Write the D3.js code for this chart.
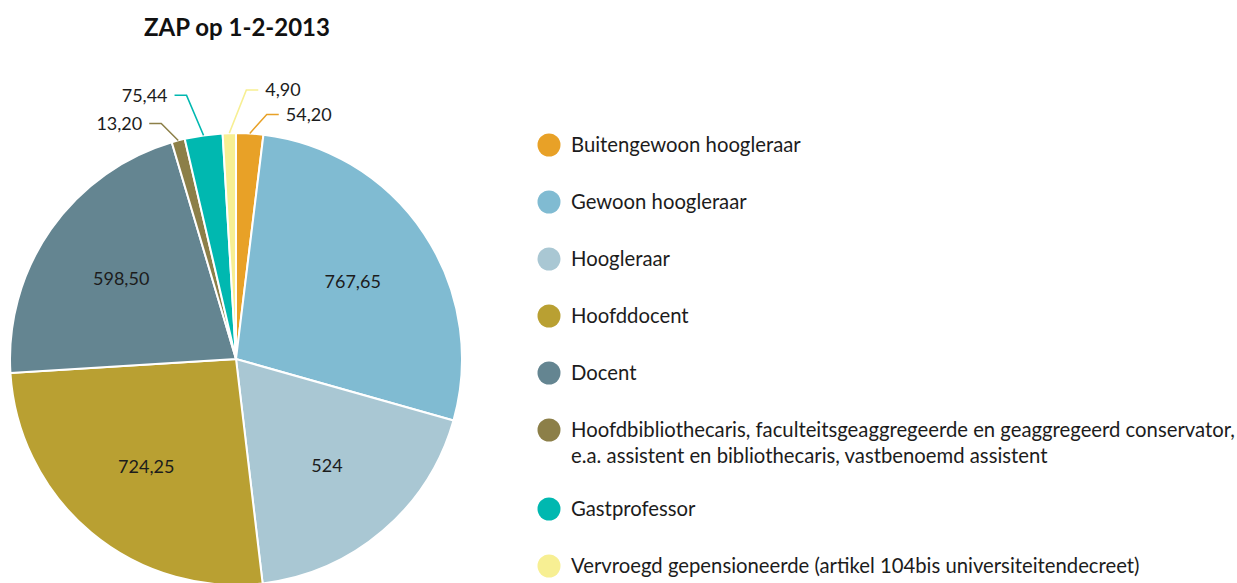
<!DOCTYPE html>
<html>
<head>
<meta charset="utf-8">
<script src="https://cdn.jsdelivr.net/npm/d3@7"></script>
<style>
  body { margin: 0; background: #fff; }
  svg { display: block; font-family: Lato, "Open Sans", sans-serif; }
</style>
</head>
<body>
<div class="chart"></div>
<script>
const title = 'ZAP op 1-2-2013'

const categories = [
    'Buitengewoon hoogleraar',
    'Gewoon hoogleraar',
    'Hoogleraar',
    'Hoofddocent',
    'Docent',
    'Hoofdbibliothecaris, faculteitsgeaggregeerde en geaggregeerd conservator,\ne.a. assistent en bibliothecaris, vastbenoemd assistent',
    'Gastprofessor',
    'Vervroegd gepensioneerde (artikel 104bis universiteitendecreet)'
]

const values = [54.20, 767.65, 524, 724.25, 598.50, 13.20, 75.44, 4.90]

const colors = ['#e8a127', '#80bbd2', '#a9c7d3', '#b9a032', '#648591', '#8c7f48', '#00b8b0', '#f7ef93']

// callout placement for the thin slices (side: 1 right, -1 left; rise in px)
const callouts = {
    0: {side: 1, rise: 19},
    5: {side: -1, rise: 17},
    6: {side: -1, rise: 40},
    7: {side: 1, rise: 43}
}

const width = 1237
const height = 583
const cx = 236, cy = 359, radius = 226

const svg = d3.select('.chart')
    .append('svg')
    .attr('width', width)
    .attr('height', height)
    .attr('viewBox', [0, 0, width, height])

const nl = d3.formatLocale({decimal: ',', thousands: '.', grouping: [3], currency: ['€', '']})
const fmt = v => Number.isInteger(v) ? nl.format('d')(v) : nl.format('.2f')(v)

// very thin slices get a minimum visible angle, the rest shares what's left
const total = d3.sum(values)
const minAngle = 3.4 * Math.PI / 180
const raw = values.map(v => v / total * 2 * Math.PI)
const small = raw.map(a => a < minAngle)
const bigSum = d3.sum(raw.filter((a, i) => !small[i]))
const k = (2 * Math.PI - small.filter(Boolean).length * minAngle) / bigSum
const data = values.map((v, i) => ({
    i: i,
    name: categories[i],
    value: v,
    angle: small[i] ? minAngle : raw[i] * k
}))

const pie = d3.pie().sort(null).value(d => d.angle)
const arcs = pie(data)

const arc = d3.arc().innerRadius(0).outerRadius(radius)
const labelArc = d3.arc().innerRadius(radius * 0.62).outerRadius(radius * 0.62)
const edgeArc = d3.arc().innerRadius(radius).outerRadius(radius)

const g = svg.append('g').attr('transform', `translate(${cx},${cy})`)

g.selectAll('path.slice')
    .data(arcs)
    .enter()
    .append('path')
    .attr('class', 'slice')
    .attr('d', arc)
    .attr('fill', d => colors[d.data.i])
    .attr('stroke', '#fff')
    .attr('stroke-width', 2)

// labels inside the big slices
g.selectAll('text.inside')
    .data(arcs.filter(d => !(d.data.i in callouts)))
    .enter()
    .append('text')
    .attr('class', 'inside')
    .attr('transform', d => `translate(${labelArc.centroid(d)})`)
    .attr('text-anchor', 'middle')
    .attr('dy', '0.35em')
    .attr('font-size', 18)
    .attr('fill', '#1c1c1c')
    .text(d => fmt(d.data.value))

// callouts for the thin slices
const outs = arcs.filter(d => d.data.i in callouts)

outs.forEach(d => {
    const c = callouts[d.data.i]
    const p0 = edgeArc.centroid(d)
    const p1 = [p0[0] + c.side * 17, p0[1] - c.rise]
    const p2 = [p1[0] + c.side * 12, p1[1]]
    g.append('polyline')
        .attr('points', [p0, p1, p2].map(p => p.join(',')).join(' '))
        .attr('fill', 'none')
        .attr('stroke', colors[d.data.i])
        .attr('stroke-width', 1.5)
    g.append('text')
        .attr('x', p2[0] + c.side * 7)
        .attr('y', p2[1])
        .attr('dy', '0.35em')
        .attr('text-anchor', c.side > 0 ? 'start' : 'end')
        .attr('font-size', 18)
        .attr('fill', '#1c1c1c')
        .text(fmt(d.data.value))
})

svg.append('text')
    .attr('x', 237)
    .attr('y', 36)
    .attr('text-anchor', 'middle')
    .attr('font-size', 24)
    .attr('font-weight', 700)
    .attr('fill', '#111')
    .text(title)

// legend
let ly = 145
const legend = svg.append('g')
categories.forEach((name, i) => {
    const lines = name.split('\n')
    legend.append('circle')
        .attr('cx', 549)
        .attr('cy', ly)
        .attr('r', 11.5)
        .attr('fill', colors[i])
    const t = legend.append('text')
        .attr('x', 571)
        .attr('y', ly)
        .attr('font-size', 20.3)
        .attr('fill', '#1c1c1c')
    lines.forEach((line, j) => {
        t.append('tspan')
            .attr('x', 571)
            .attr('dy', j === 0 ? '0.35em' : 26)
            .text(line)
    })
    ly += 57 + (lines.length - 1) * 22
})
</script>
</body>
</html>
